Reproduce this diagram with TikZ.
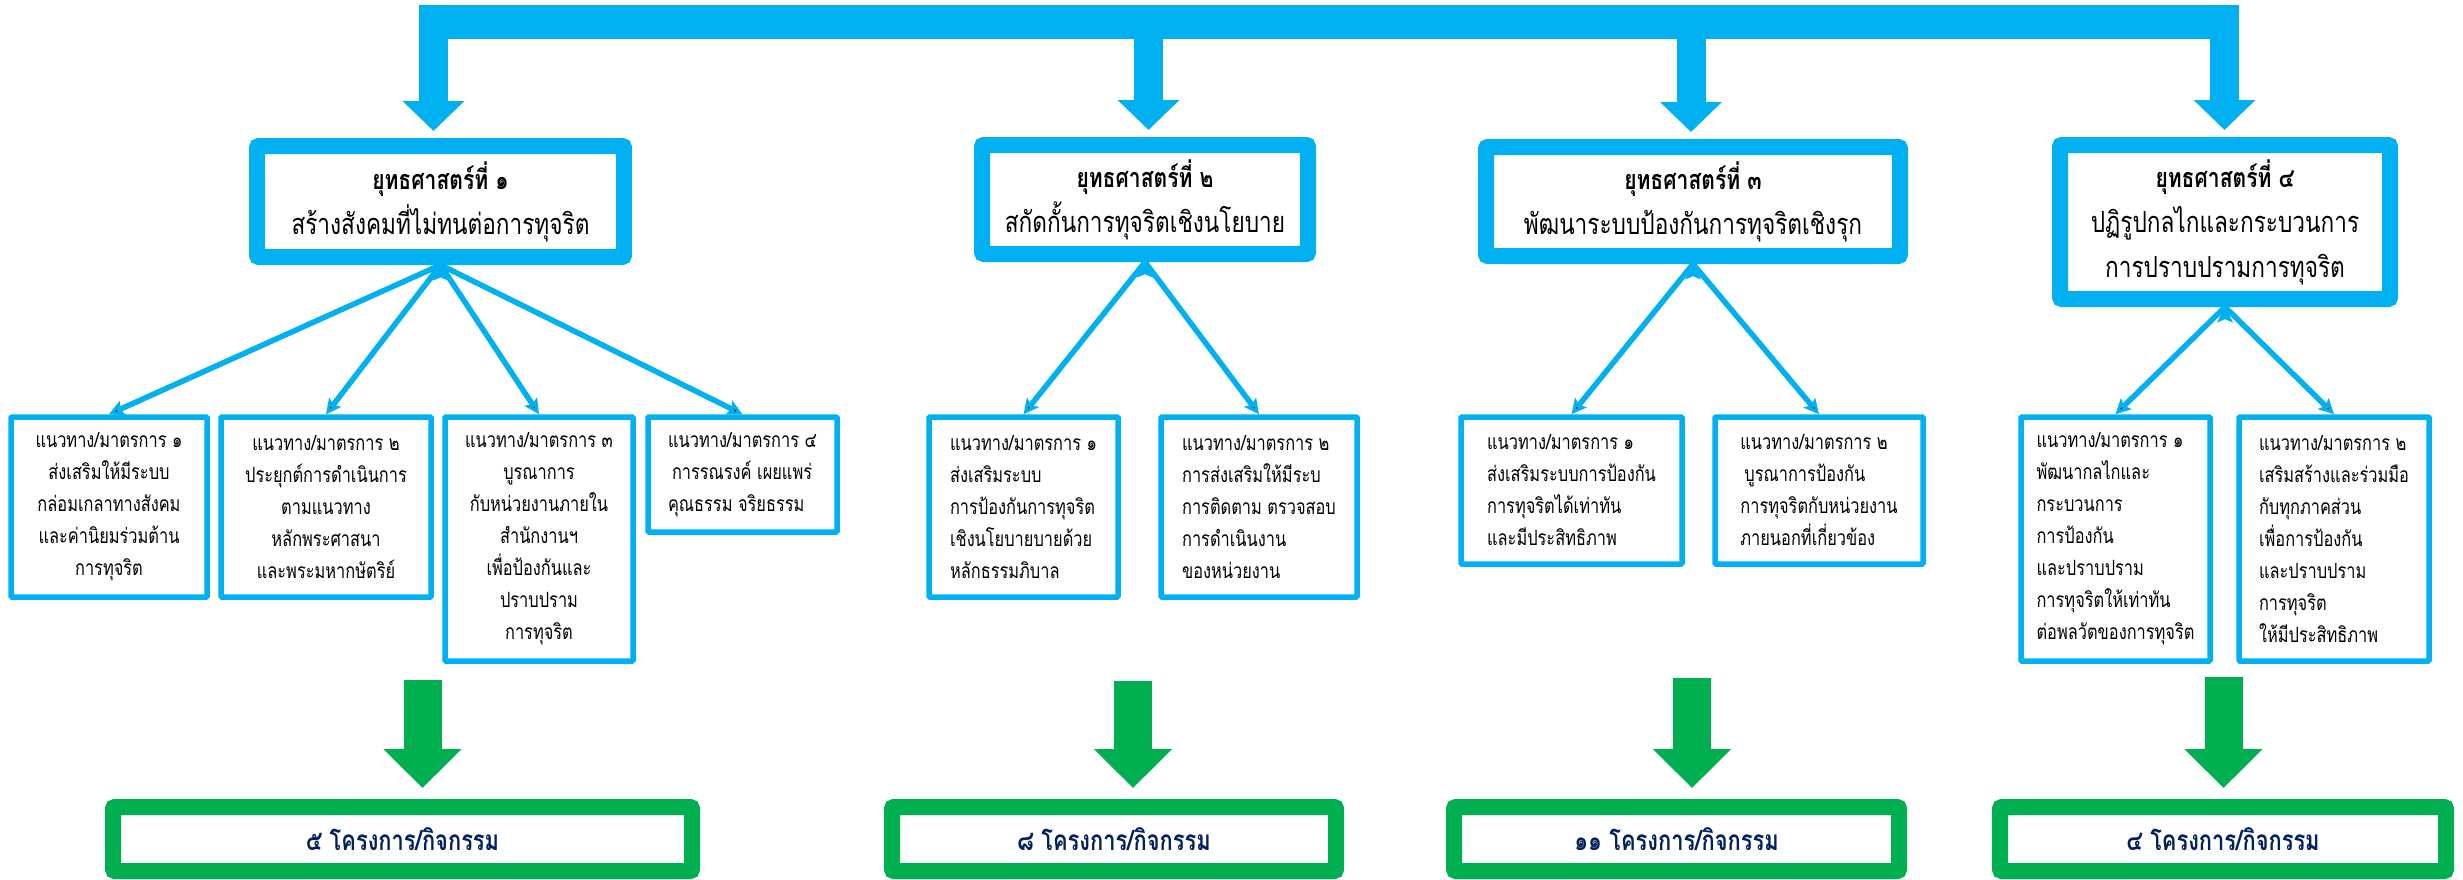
\documentclass[tikz,border=0pt]{standalone}
\usepackage{fontspec}
\newfontfamily\thaifont[Script=Thai,FakeStretch=0.78]{Loma}
\usetikzlibrary{arrows.meta,positioning}
\definecolor{skyblue}{HTML}{00B0F0}
\definecolor{leafgreen}{HTML}{00B050}
\definecolor{navytext}{HTML}{002060}

\begin{document}
\begin{tikzpicture}[x=1pt,y=-1pt]
\tikzstyle{strategy}=[draw=skyblue, line width=16pt, fill=white,
rounded corners=2pt, align=center, inner sep=0pt,
font=\thaifont\fontsize{29}{45}\selectfont]
\tikzstyle{guide}=[draw=skyblue, line width=5.5pt, fill=white,
rounded corners=1pt, inner sep=0pt,
font=\thaifont\fontsize{21}{32}\selectfont]
\tikzstyle{project}=[draw=leafgreen, line width=16pt, fill=white,
rounded corners=2pt, inner sep=0pt, text=navytext,
font=\thaifont\bfseries\fontsize{28}{36}\selectfont]
\tikzstyle{feed}=[draw=skyblue, line width=29pt,
-{Triangle[length=30pt,width=60pt]}, shorten >=7pt]
\tikzstyle{link}=[draw=skyblue, line width=5.5pt,
-{Stealth[length=15pt,width=15pt,inset=3pt]}]
\tikzstyle{result}=[draw=leafgreen, line width=38pt,
-{Triangle[length=39pt,width=76pt]}, shorten >=11pt]
\useasboundingbox (0,0) rectangle (2463,879);

% strategies
\node[strategy, minimum width=367pt, minimum height=111pt] at (440.5,201.5) (s1)
{{\bfseries\fontsize{27}{45}\selectfont ยุทธศาสตร์ที่ ๑}\\สร้างสังคมที่ไม่ทนต่อการทุจริต};
\node[strategy, minimum width=326pt, minimum height=109pt] at (1145,199.5) (s2)
{{\bfseries\fontsize{27}{45}\selectfont ยุทธศาสตร์ที่ ๒}\\สกัดกั้นการทุจริตเชิงนโยบาย};
\node[strategy, minimum width=414pt, minimum height=109pt] at (1693,201.5) (s3)
{{\bfseries\fontsize{27}{45}\selectfont ยุทธศาสตร์ที่ ๓}\\พัฒนาระบบป้องกันการทุจริตเชิงรุก};
\node[strategy, minimum width=330pt, minimum height=154pt] at (2225,222) (s4)
{{\bfseries\fontsize{27}{45}\selectfont ยุทธศาสตร์ที่ ๔}\\ปฏิรูปกลไกและกระบวนการ\\การปราบปรามการทุจริต};

% guidelines
\node[guide, align=center, minimum width=196pt, minimum height=180pt] at (109,507) (g11)
{แนวทาง/มาตรการ ๑\\ส่งเสริมให้มีระบบ\\กล่อมเกลาทางสังคม\\และค่านิยมร่วมต้าน\\การทุจริต};
\node[guide, align=center, minimum width=210pt, minimum height=180pt] at (326,507) (g12)
{แนวทาง/มาตรการ ๒\\ประยุกต์การดำเนินการ\\ตามแนวทาง\\หลักพระศาสนา\\และพระมหากษัตริย์};
\node[guide, align=center, minimum width=188pt, minimum height=244pt] at (539,539) (g13)
{แนวทาง/มาตรการ ๓\\บูรณาการ\\กับหน่วยงานภายใน\\สำนักงานฯ\\เพื่อป้องกันและ\\ปราบปราม\\การทุจริต};
\node[guide, align=left, minimum width=189pt, minimum height=115pt] at (742.5,474.5) (g14)
{แนวทาง/มาตรการ ๔\\\hspace*{4pt}การรณรงค์ เผยแพร่\\คุณธรรม จริยธรรม};
\node[guide, align=left, minimum width=189pt, minimum height=180pt] at (1023.5,507) (g21)
{แนวทาง/มาตรการ ๑\\ส่งเสริมระบบ\\การป้องกันการทุจริต\\เชิงนโยบายบายด้วย\\หลักธรรมภิบาล};
\node[guide, align=left, minimum width=196pt, minimum height=180pt] at (1259,507) (g22)
{แนวทาง/มาตรการ ๒\\การส่งเสริมให้มีระบ\\การติดตาม ตรวจสอบ\\การดำเนินงาน\\ของหน่วยงาน};
\node[guide, align=left, minimum width=221pt, minimum height=147pt] at (1571.5,490.5) (g31)
{แนวทาง/มาตรการ ๑\\ส่งเสริมระบบการป้องกัน\\การทุจริตได้เท่าทัน\\และมีประสิทธิภาพ};
\node[guide, align=left, minimum width=208pt, minimum height=147pt] at (1819,490.5) (g32)
{แนวทาง/มาตรการ ๒\\\hspace*{4pt}บูรณาการป้องกัน\\การทุจริตกับหน่วยงาน\\ภายนอกที่เกี่ยวข้อง};
\node[guide, align=left, minimum width=189pt, minimum height=244pt] at (2115.5,539) (g41)
{แนวทาง/มาตรการ ๑\\พัฒนากลไกและ\\กระบวนการ\\การป้องกัน\\และปราบปราม\\การทุจริตให้เท่าทัน\\ต่อพลวัตของการทุจริต};
\node[guide, align=left, minimum width=190pt, minimum height=244pt] at (2334,539) (g42)
{แนวทาง/มาตรการ ๒\\เสริมสร้างและร่วมมือ\\กับทุกภาคส่วน\\เพื่อการป้องกัน\\และปราบปราม\\การทุจริต\\ให้มีประสิทธิภาพ};

% projects
\node[project, minimum width=579pt, minimum height=64pt] at (402.5,839) (p1) {๕ โครงการ/กิจกรรม};
\node[project, minimum width=444pt, minimum height=64pt] at (1114,839) (p2) {๘ โครงการ/กิจกรรม};
\node[project, minimum width=445pt, minimum height=64pt] at (1676.5,839) (p3) {๑๑ โครงการ/กิจกรรม};
\node[project, minimum width=446pt, minimum height=64pt] at (2223,839) (p4) {๔ โครงการ/กิจกรรม};

% top bar
\fill[skyblue] (419,5) rectangle (2239,39);
\coordinate (t1) at (433.5,22);
\coordinate (t2) at (1148.5,22);
\coordinate (t3) at (1691,22);
\coordinate (t4) at (2224.5,22);
\draw[feed] (t1) -- (t1 |- s1.north);
\draw[feed] (t2) -- (t2 |- s2.north);
\draw[feed] (t3) -- (t3 |- s3.north);
\draw[feed] (t4) -- (t4 |- s4.north);

\path[link] (s1.south) edge (g11.north);
\path[link] (s1.south) edge (g12.north);
\path[link] (s1.south) edge (g13.north);
\path[link] (s1.south) edge (g14.north);
\path[link] (s2.south) edge (g21.north);
\path[link] (s2.south) edge (g22.north);
\path[link] (s3.south) edge (g31.north);
\path[link] (s3.south) edge (g32.north);
\path[link] (s4.south) edge (g41.north);
\path[link] (s4.south) edge (g42.north);

% green arrows
\coordinate (a1) at (422.5,680);
\coordinate (a2) at (1133,681);
\coordinate (a3) at (1692,678);
\coordinate (a4) at (2223.5,677);
\draw[result] (a1) -- (a1 |- p1.north);
\draw[result] (a2) -- (a2 |- p2.north);
\draw[result] (a3) -- (a3 |- p3.north);
\draw[result] (a4) -- (a4 |- p4.north);

\end{tikzpicture}
\end{document}
